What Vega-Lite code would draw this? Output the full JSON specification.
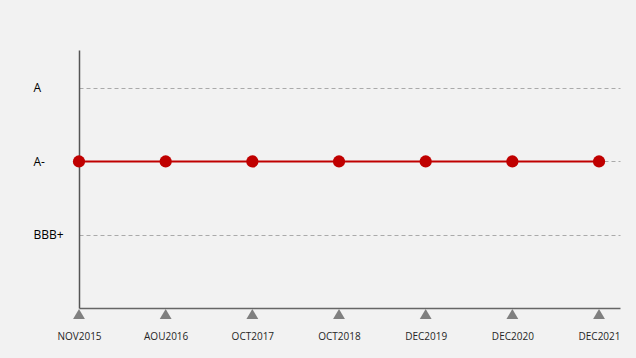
{
  "$schema": "https://vega.github.io/schema/vega-lite/v6.json",
  "width": 541,
  "height": 258,
  "autosize": "none",
  "padding": {"left": 79, "top": 50, "right": 16, "bottom": 50},
  "background": "#f2f2f2",
  "config": {"view": {"stroke": null}, "font": "Open Sans"},
  "data": {
    "values": [
      {"date": "NOV2015", "rating": "A-"},
      {"date": "AOU2016", "rating": "A-"},
      {"date": "OCT2017", "rating": "A-"},
      {"date": "OCT2018", "rating": "A-"},
      {"date": "DEC2019", "rating": "A-"},
      {"date": "DEC2020", "rating": "A-"},
      {"date": "DEC2021", "rating": "A-"}
    ]
  },
  "encoding": {
    "x": {
      "field": "date",
      "type": "ordinal",
      "sort": null,
      "scale": {"type": "point", "padding": 0.121, "align": 0},
      "axis": {
        "title": null,
        "labelAngle": 0,
        "ticks": false,
        "tickSize": 0,
        "domainColor": "#666666",
        "domainWidth": 1.5,
        "labelPadding": 23,
        "labelFontSize": 10,
        "labelColor": "#262626",
        "labelBaseline": "top"
      }
    }
  },
  "layer": [
    {
      "mark": {"type": "point", "shape": "triangle-up", "filled": true, "color": "#808080", "size": 140, "opacity": 1},
      "encoding": {
        "y": {"value": {"expr": "height"}},
        "yOffset": {"value": 6}
      }
    },
    {
      "mark": {"type": "line", "color": "#c00000", "strokeWidth": 2},
      "encoding": {
        "y": {
          "field": "rating",
          "type": "ordinal",
          "scale": {"type": "point", "domain": ["A", "A-", "BBB+"], "padding": 0.755, "align": 0.342},
          "axis": {
            "title": null,
            "grid": true,
            "gridDash": [4, 3],
            "gridColor": "#aaaaaa",
            "gridWidth": 1,
            "ticks": false,
            "tickSize": 0,
            "labelAlign": "left",
            "labelPadding": 46,
            "labelFontSize": 12,
            "labelColor": "#000000",
            "domainColor": "#555555",
            "domainWidth": 1.5
          }
        }
      }
    },
    {
      "mark": {"type": "circle", "color": "#c00000", "size": 150, "opacity": 1},
      "encoding": {
        "y": {"field": "rating", "type": "ordinal"}
      }
    }
  ]
}
